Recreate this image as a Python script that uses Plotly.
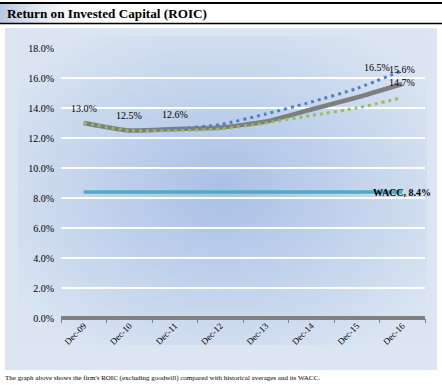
import base64
import plotly.graph_objects as go

# ---- data ----
categories = ["Dec-09", "Dec-10", "Dec-11", "Dec-12", "Dec-13", "Dec-14", "Dec-15", "Dec-16"]
roic = [13.0, 12.5, 12.6, 12.7, 13.1, 13.9, 14.7, 15.6]
avg_blue = [13.0, 12.5, 12.6, 12.9, 13.6, 14.4, 15.3, 16.5]
avg_green = [13.0, 12.5, 12.5, 12.6, 13.0, 13.5, 14.0, 14.7]
wacc = [8.4] * 8
y_ticks = [0, 2, 4, 6, 8, 10, 12, 14, 16, 18]

title_text = "Return on Invested Capital (ROIC)"
caption_text = "The graph above shows the firm's ROIC (excluding goodwill) compared with historical averages and its WACC."

# ---- geometry (pixels) ----
FW, FH = 442, 386
L, R, T, B = 61, 425, 48, 318
W, H = R - L, B - T


def px(x):
    return (x - L) / W


def py(y):
    return (B - y) / H


SERIF = "Liberation Serif, Times New Roman, serif"

fig = go.Figure()

fig.add_trace(go.Scatter(x=categories, y=wacc, mode="lines",
                         line=dict(color="#4bacc6", width=3.5), hoverinfo="skip"))
fig.add_trace(go.Scatter(x=categories, y=roic, mode="lines",
                         line=dict(color="#7f7f7f", width=4.5, shape="spline", smoothing=0.6),
                         hoverinfo="skip"))
fig.add_trace(go.Scatter(x=categories, y=avg_blue, mode="lines",
                         line=dict(color="#4f81bd", width=3, dash="3px,4px", shape="spline", smoothing=0.6),
                         hoverinfo="skip"))
fig.add_trace(go.Scatter(x=categories, y=avg_green, mode="lines",
                         line=dict(color="#9bbb59", width=3, dash="3px,4px", shape="spline", smoothing=0.6),
                         hoverinfo="skip"))

# data labels
lab_font = dict(family=SERIF, size=10, color="black")
for i in [0, 1, 2, 7]:
    fig.add_annotation(x=categories[i], y=roic[i], text=f"{roic[i]:.1f}%", showarrow=False,
                       yshift=15, font=lab_font)
fig.add_annotation(x=categories[7], y=avg_blue[7], text=f"{avg_blue[7]:.1f}%", showarrow=False,
                   yshift=3, xshift=-25, font=lab_font)
fig.add_annotation(x=categories[7], y=avg_green[7], text=f"{avg_green[7]:.1f}%", showarrow=False,
                   yshift=15, font=lab_font)
fig.add_annotation(x=categories[7], y=wacc[7], text=f"<b>WACC, {wacc[7]:.1f}%</b>", showarrow=False,
                   yshift=0, font=dict(family=SERIF, size=10, color="black"))

# title + caption
fig.add_annotation(xref="paper", yref="paper", x=px(5), y=py(14), xanchor="left", yanchor="middle",
                   text=f"<b>{title_text}</b>", showarrow=False,
                   font=dict(family=SERIF, size=13.2, color="black"))
fig.add_annotation(xref="paper", yref="paper", x=px(3), y=py(378), xanchor="left", yanchor="middle",
                   text=caption_text, showarrow=False,
                   font=dict(family=SERIF, size=7, color="black"))

shapes = [
    dict(type="line", xref="paper", yref="paper", x0=px(0), x1=px(442), y0=py(3), y1=py(3),
         line=dict(color="black", width=2)),
    dict(type="line", xref="paper", yref="paper", x0=px(0), x1=px(442), y0=py(23.5), y1=py(23.5),
         line=dict(color="black", width=1.5)),
]

# chart-area background with radial gradient plot area (pure styling)
CX0, CY0, CX1, CY1 = 5, 28, 437, 370
bg_svg = (
    f'<svg xmlns="http://www.w3.org/2000/svg" width="{CX1-CX0}" height="{CY1-CY0}" '
    f'viewBox="0 0 {CX1-CX0} {CY1-CY0}" preserveAspectRatio="none">'
    '<defs><radialGradient id="g" cx="50%" cy="50%" r="62%">'
    '<stop offset="0%" stop-color="#a9c0e6"/>'
    '<stop offset="100%" stop-color="#dbe5f2"/>'
    '</radialGradient></defs>'
    f'<rect width="{CX1-CX0}" height="{CY1-CY0}" fill="#dce6f2"/>'
    f'<rect x="{18-CX0}" y="{36-CY0}" width="{427-18}" height="{345-36}" fill="url(#g)"/>'
    '</svg>'
)
bg_uri = "data:image/svg+xml;base64," + base64.b64encode(bg_svg.encode()).decode()

title_svg = (
    '<svg xmlns="http://www.w3.org/2000/svg" width="200" height="20" viewBox="0 0 200 20" preserveAspectRatio="none">'
    '<defs><linearGradient id="t" x1="0" x2="1" y1="0" y2="0">'
    '<stop offset="0%" stop-color="#b7c7de"/>'
    '<stop offset="100%" stop-color="#ffffff" stop-opacity="0"/>'
    '</linearGradient></defs>'
    '<rect width="200" height="20" fill="url(#t)"/></svg>'
)
title_uri = "data:image/svg+xml;base64," + base64.b64encode(title_svg.encode()).decode()

images = [
    dict(source=bg_uri, xref="paper", yref="paper", x=px(CX0), y=py(CY0),
         sizex=px(CX1) - px(CX0), sizey=py(CY0) - py(CY1), xanchor="left", yanchor="top",
         sizing="stretch", layer="below"),
    dict(source=title_uri, xref="paper", yref="paper", x=px(0), y=py(4),
         sizex=px(110) - px(0), sizey=py(4) - py(23), xanchor="left", yanchor="top",
         sizing="stretch", layer="below"),
]

fig.update_layout(
    width=FW, height=FH,
    margin=dict(l=L, r=FW - R, t=T, b=FH - B, pad=0),
    paper_bgcolor="white",
    plot_bgcolor="rgba(0,0,0,0)",
    showlegend=False,
    shapes=shapes,
    images=images,
    xaxis=dict(
        type="category", categoryorder="array", categoryarray=categories,
        range=[-0.5, 7.5], showgrid=False, zeroline=False,
        showline=False, ticks="outside", tickson="boundaries", ticklen=4, tickcolor="#808080",
        tickangle=-45, tickfont=dict(family=SERIF, size=9, color="black"),
    ),
    yaxis=dict(
        range=[0, 18], tickvals=y_ticks, ticktext=[f"{v:.1f}%" for v in y_ticks],
        showgrid=True, gridcolor="white", gridwidth=1.5,
        zeroline=True, zerolinecolor="#808080", zerolinewidth=3.5,
        showline=False, ticks="", ticklabelstandoff=6,
        tickfont=dict(family=SERIF, size=10, color="black"),
    ),
)

fig.write_html("out.html", config={"displayModeBar": False},
               post_script="document.body.style.margin='0px';document.body.style.overflow='hidden';")
